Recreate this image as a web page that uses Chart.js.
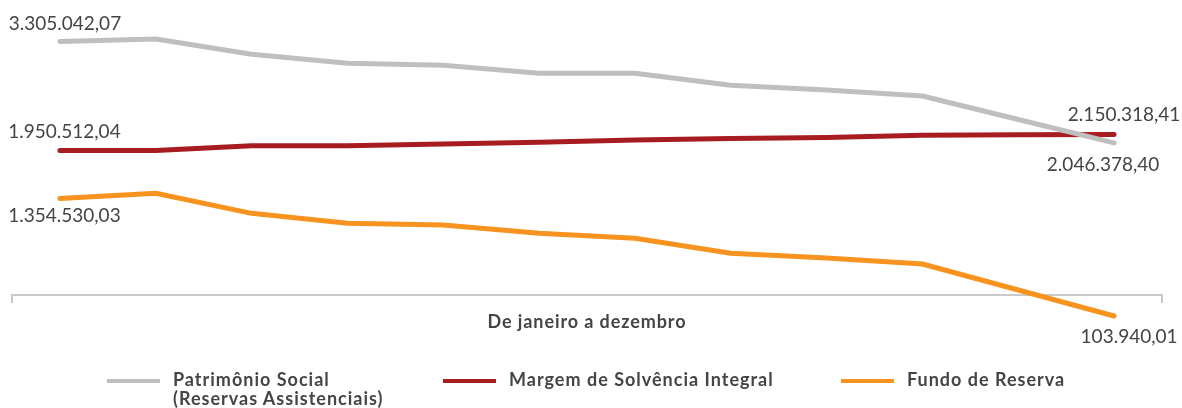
<!DOCTYPE html>
<html><head><meta charset="utf-8">
<script src="https://cdn.jsdelivr.net/npm/chart.js@4/dist/chart.umd.min.js"></script>
<style>
html,body{margin:0;padding:0;background:#fff;}
#wrap{position:relative;width:1182px;height:408px;}
#legend{position:absolute;left:0;top:0;width:1182px;height:408px;pointer-events:none;font:bold 18px Lato, sans-serif;letter-spacing:1px;color:#454545;}
.item{position:absolute;top:370px;display:flex;align-items:flex-start;}
.sw{width:53px;height:4px;margin-top:9px;margin-right:13px;}
.tx{line-height:18.5px;white-space:pre-line;}
</style></head><body>
<div id="wrap"><canvas id="c"></canvas><div id="legend"></div></div>
<script>
// ---- data ----
const months = ['Jan','Fev','Mar','Abr','Mai','Jun','Jul','Ago','Set','Out','Nov','Dez'];
const seriesNames = ['Patrimônio Social\n(Reservas Assistenciais)', 'Margem de Solvência Integral', 'Fundo de Reserva'];
const patrimonio = [3305042.07, 3337000, 3147000, 3035000, 3010000, 2911000, 2911000, 2761000, 2703000, 2629000, 2337000, 2046378.40];
const margem     = [1950512.04, 1951000, 2011000, 2011000, 2032000, 2053000, 2082000, 2101000, 2113000, 2140000, 2148000, 2150318.41];
const fundo      = [1354530.03, 1420000, 1171000, 1047000, 1026000, 923000, 861000, 674500, 616000, 542000, 219000, -103940.01];
const axisTitle = 'De janeiro a dezembro';

// ---- styles ----
const colors = ['#bfbfbf', '#a71c20', '#f7931e'];
const legendLeft = [107, 443, 841];

function fmt(v){
  const a = Math.abs(v);
  const parts = a.toFixed(2).split('.');
  return parts[0].replace(/\B(?=(\d{3})+(?!\d))/g, '.') + ',' + parts[1];
}

const labelSpecs = [
  {ds:0, i:0,  dx:5,   dy:-17.5},
  {ds:1, i:0,  dx:4.5, dy:-18.6},
  {ds:2, i:0,  dx:4.5, dy:17.4},
  {ds:1, i:11, dx:10,  dy:-19.5},
  {ds:0, i:11, dx:-11, dy:22},
  {ds:2, i:11, dx:15,  dy:21}
];

const spacing = {
  id: 'spacing',
  beforeDraw(chart){ chart.ctx.letterSpacing = '0.9px'; },
  afterDraw(chart){ chart.ctx.letterSpacing = '0px'; }
};

const endLabels = {
  id: 'endLabels',
  afterDatasetsDraw(chart){
    const ctx = chart.ctx;
    ctx.save();
    ctx.letterSpacing = '0px';
    ctx.font = '19px Lato';
    ctx.fillStyle = '#444444';
    ctx.textAlign = 'center';
    ctx.textBaseline = 'middle';
    labelSpecs.forEach(s => {
      const el = chart.getDatasetMeta(s.ds).data[s.i];
      ctx.fillText(fmt(chart.data.datasets[s.ds].data[s.i]), el.x + s.dx, el.y + s.dy);
    });
    ctx.restore();
  }
};

const seriesData = [patrimonio, margem, fundo];
const datasets = seriesData.map((d, k) => ({
  label: seriesNames[k],
  data: d,
  borderColor: colors[k],
  backgroundColor: colors[k],
  borderWidth: 5,
  borderCapStyle: 'round',
  borderJoinStyle: 'round',
  pointRadius: 0,
  tension: 0,
  fill: false,
  clip: false
}));

const chart = new Chart(document.getElementById('c'), {
  type: 'line',
  data: { labels: months, datasets },
  options: {
    responsive: true,
    maintainAspectRatio: false,
    animation: false,
    layout: { padding: { top: 20, left: 12, right: 20, bottom: 0 } },
    plugins: { legend: { display: false }, tooltip: { enabled: false } },
    scales: {
      x: {
        offset: true,
        grid: {
          offset: true,
          drawOnChartArea: false,
          drawTicks: true,
          tickLength: 8,
          lineWidth: 2,
          color: c => (c.index === 0 || c.index === undefined) ? '#c9c9c9' : 'rgba(0,0,0,0)'
        },
        border: { display: true, color: '#c9c9c9', width: 2 },
        ticks: { display: false },
        title: {
          display: true, text: axisTitle, color: '#454545',
          font: { family: 'Lato', size: 18, weight: 'bold' },
          padding: { top: 0, bottom: 75 }
        },
        afterFit(s){ s.height = 113; }
      },
      y: { display: false, min: 156500, max: 3572700 }
    }
  },
  plugins: [spacing, endLabels]
});

// HTML legend built from the chart's datasets
const lg = document.getElementById('legend');
chart.data.datasets.forEach((ds, k) => {
  const it = document.createElement('div');
  it.className = 'item';
  it.style.left = legendLeft[k] + 'px';
  const sw = document.createElement('div');
  sw.className = 'sw';
  sw.style.background = ds.borderColor;
  const tx = document.createElement('div');
  tx.className = 'tx';
  tx.textContent = ds.label;
  it.appendChild(sw); it.appendChild(tx);
  lg.appendChild(it);
});
</script>
</body></html>
